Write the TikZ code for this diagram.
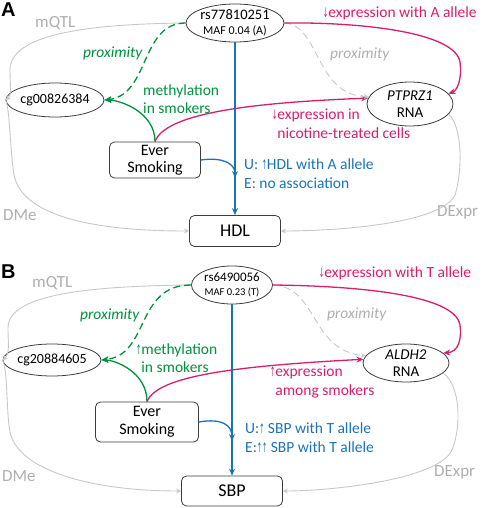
\documentclass[tikz,border=0pt]{standalone}
\usepackage{fontspec}
\usepackage{graphicx}
\setmainfont{Carlito}
\newfontfamily\arrowfont{DejaVu Sans}
\newfontfamily\panelfont{Liberation Sans}
\usetikzlibrary{shapes.geometric,arrows.meta}
\definecolor{cgreen}{RGB}{0,145,60}
\definecolor{cmag}{RGB}{214,30,110}
\definecolor{cblue}{RGB}{25,115,185}
\definecolor{cgray}{RGB}{200,200,200}
\definecolor{cgtext}{RGB}{175,175,175}
\definecolor{cedge}{RGB}{60,60,60}
\newcommand\uar{{\arrowfont\scalebox{0.4}[0.85]{↑}}}
\newcommand\dar{{\arrowfont\scalebox{0.4}[0.85]{↓}}}
\tikzset{
  ell/.style={ellipse, draw=cedge, line width=0.8pt, inner sep=0pt, align=center},
  rbox/.style={rectangle, rounded corners=5pt, draw=cedge, line width=0.8pt, inner sep=0pt, align=center},
  lab/.style={anchor=west, inner sep=0pt, align=left, font=\fontsize{15.5}{18.5}\selectfont},
  glab/.style={lab, text=cgtext, font=\fontsize{17}{20}\selectfont},
  ga/.style={draw=cgray, line width=0.9pt, -{Stealth[length=5pt,width=5pt]}},
  gd/.style={ga, dash pattern=on 7pt off 4pt},
  gr/.style={draw=cgreen, line width=1.3pt, -{Stealth[length=7pt,width=6pt]}},
  grd/.style={gr, dash pattern=on 7pt off 4pt},
  mg/.style={draw=cmag, line width=1.3pt, -{Stealth[length=7pt,width=6pt]}},
  bl/.style={draw=cblue, line width=1.3pt, -{Stealth[length=7pt,width=6pt]}},
  panel/.style={anchor=west, inner sep=0pt, font=\panelfont\bfseries\fontsize{20}{22}\selectfont}
}
\begin{document}
\begin{tikzpicture}[x=1pt,y=-1pt]
\useasboundingbox (0,0) rectangle (484,508);
% ---------------- Panel A ----------------
\node[panel] (pA) at (1,10) {A};
\node[ell, minimum width=80pt, minimum height=38pt, font=\fontsize{14.5}{15}\selectfont] (rsA) at (235,23)
  {rs77810251\\{\fontsize{12}{13}\selectfont MAF 0.04 (A)}};
\node[ell, minimum width=72pt, minimum height=34pt, font=\fontsize{14}{16}\selectfont] (cgA) at (55,100)
  {cg00826384};
\node[ell, minimum width=86pt, minimum height=44pt, font=\fontsize{15}{16.5}\selectfont] (ptA) at (410,104)
  {\textit{PTPRZ1}\\RNA};
\node[rbox, minimum width=91pt, minimum height=36pt, font=\fontsize{16}{16.5}\selectfont] (smA) at (155,160)
  {Ever\\Smoking};
\node[rbox, minimum width=91pt, minimum height=31pt, font=\fontsize{18}{20}\selectfont] (hdl) at (235,231)
  {HDL};
\coordinate (jA) at (235,178);

\node[glab] (mqA) at (35,23) {mQTL};
\node[glab] (dmA) at (3,215) {DMe};
\node[glab] (deA) at (437,212) {DExpr};
\node[lab, text=cgreen] (pxA) at (83,53) {\itshape proximity};
\node[lab, text=cgreen] (meA) at (143,99) {methylation\\in smokers};
\node[lab, text=cmag] (exA) at (323,13) {\dar expression with A allele};
\node[lab, text=cgtext] (pgA) at (330,54) {\itshape proximity};
\node[lab, text=cmag] (niA) at (272,123.5) {\dar expression in\\\hphantom{\dar}nicotine-treated cells};
\node[lab, text=cblue] (uA) at (244,173.5) {U: \uar HDL with A allele\\E: no association};

\draw[ga] (rsA.west) .. controls (80,24) and (10,36) .. (10,70) .. controls (10,85) and (12,95) .. (cgA.west);
\draw[grd] (rsA.west) .. controls (140,23) and (150,95) .. (cgA.east);
\draw[gr] (smA.north) .. controls (155,112) and (120,100) .. (cgA.east);
\draw[mg] (smA.north) .. controls (165,115) and (240,103) .. (ptA.172);
\draw[gd] (rsA.east) .. controls (320,25) and (315,95) .. (ptA.170);
\draw[mg] (rsA.east) .. controls (360,22) and (455,32) .. (460,62) .. controls (462,78) and (458,90) .. (ptA.15);
\draw[bl] (rsA.south) -- (hdl.north);
\draw[bl] (smA.east) .. controls (222,157) and (235,163) .. (jA);
\draw[ga] (cgA.west) .. controls (10,110) and (10,150) .. (14,175) .. controls (22,215) and (90,231) .. (hdl.west);
\draw[ga] (ptA.-15) .. controls (462,125) and (463,170) .. (455,195) .. controls (440,225) and (330,231) .. (hdl.east);

% ---------------- Panel B ----------------
\node[panel] (pB) at (1,272) {B};
\node[ell, minimum width=81pt, minimum height=38pt, font=\fontsize{13}{14}\selectfont] (rsB) at (232,285)
  {rs6490056\\{\fontsize{10.5}{12}\selectfont MAF 0.23 (T)}};
\node[ell, minimum width=72pt, minimum height=32pt, font=\fontsize{14}{16}\selectfont] (cgB) at (52,360)
  {cg20884605};
\node[ell, minimum width=86pt, minimum height=38pt, font=\fontsize{15}{16.5}\selectfont] (alB) at (406,363)
  {\textit{ALDH2}\\RNA};
\node[rbox, minimum width=103pt, minimum height=40pt, font=\fontsize{16}{18}\selectfont] (smB) at (147,422)
  {Ever\\Smoking};
\node[rbox, minimum width=101pt, minimum height=30pt, font=\fontsize{18}{20}\selectfont] (sbp) at (232,491)
  {SBP};
\coordinate (jB) at (232,441);

\node[glab] (mqB) at (32,283) {mQTL};
\node[glab] (dmB) at (2,476) {DMe};
\node[glab] (deB) at (434,472) {DExpr};
\node[lab, text=cgreen] (pxB) at (80,315) {\itshape proximity};
\node[lab, text=cgreen] (meB) at (136,358) {\uar methylation\\\hphantom{\uar}in smokers};
\node[lab, text=cmag] (exB) at (319,273) {\dar expression with T allele};
\node[lab, text=cgtext] (pgB) at (327,314) {\itshape proximity};
\node[lab, text=cmag] (amB) at (270,382) {\uar expression\\\hphantom{\uar}among smokers};
\node[lab, text=cblue] (uB) at (245,437.5) {U:\uar\ SBP with T allele\\E:\uar\uar\ SBP with T allele};

\draw[ga] (rsB.west) .. controls (80,286) and (8,296) .. (8,328) .. controls (8,343) and (10,354) .. (cgB.west);
\draw[grd] (rsB.west) .. controls (135,285) and (150,355) .. (cgB.east);
\draw[gr] (smB.north) .. controls (147,372) and (115,360) .. (cgB.east);
\draw[mg] (smB.north) .. controls (157,376) and (235,366) .. (alB.175);
\draw[gd] (rsB.east) .. controls (318,287) and (310,350) .. (alB.170);
\draw[mg] (rsB.east) .. controls (360,286) and (455,295) .. (460,325) .. controls (462,340) and (458,352) .. (alB.15);
\draw[bl] (rsB.south) -- (sbp.north);
\draw[bl] (smB.east) .. controls (222,418) and (232,425) .. (jB);
\draw[ga] (cgB.west) .. controls (8,372) and (6,410) .. (10,432) .. controls (18,470) and (90,491) .. (sbp.west);
\draw[ga] (alB.-15) .. controls (460,385) and (462,425) .. (452,450) .. controls (438,480) and (330,491) .. (sbp.east);
\end{tikzpicture}
\end{document}
